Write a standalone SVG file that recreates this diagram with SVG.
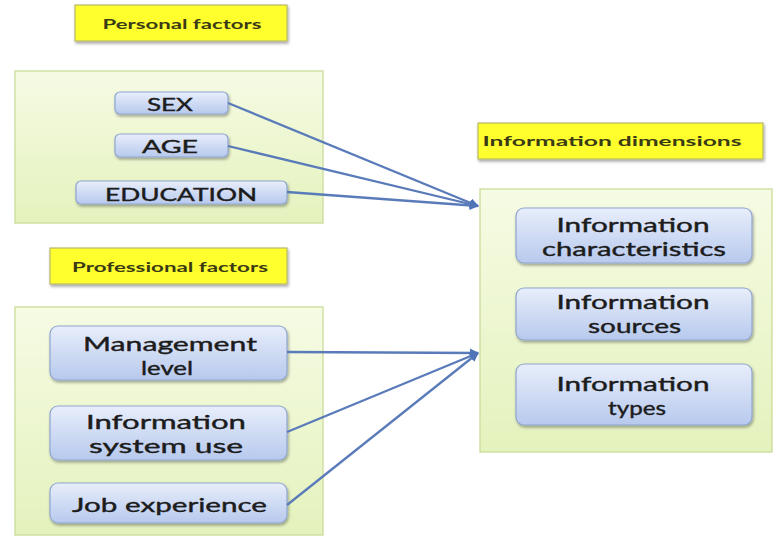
<svg xmlns="http://www.w3.org/2000/svg" width="776" height="546" viewBox="0 0 776 546">
<defs>
<linearGradient id="gNode" x1="0" y1="0" x2="0" y2="1">
<stop offset="0" stop-color="#e8eefb"/>
<stop offset="1" stop-color="#b7c9ed"/>
</linearGradient>
<linearGradient id="gBox" x1="0" y1="0" x2="0" y2="1">
<stop offset="0" stop-color="#f6fbe4"/>
<stop offset="1" stop-color="#e4f2bd"/>
</linearGradient>
<filter id="sh" x="-10%" y="-20%" width="130%" height="150%">
<feGaussianBlur in="SourceAlpha" stdDeviation="1.5"/>
<feOffset dx="1" dy="2" result="b"/>
<feComponentTransfer><feFuncA type="linear" slope="0.35"/></feComponentTransfer>
<feMerge><feMergeNode/><feMergeNode in="SourceGraphic"/></feMerge>
</filter>
<marker id="arr" viewBox="0 0 10 10" refX="9" refY="5" markerWidth="4" markerHeight="4" orient="auto" markerUnits="strokeWidth">
<path d="M0,0 L10,5 L0,10 z" fill="#4f74b8"/>
</marker>
</defs>
<style>
.ylab{fill:#ffff2e;stroke:#b9b86a;stroke-width:1.2}
.ylt{font-family:Lato,"Liberation Sans",sans-serif;font-weight:bold;font-size:13.5px;fill:#3a3a14;text-anchor:middle}
.box{fill:url(#gBox);stroke:#cddf9f;stroke-width:1.4}
.node{fill:url(#gNode);stroke:#8fa6cf;stroke-width:1.2}
.nt{font-family:Lato,"Liberation Sans",sans-serif;font-size:20px;fill:#1c1c1c;stroke:#1c1c1c;stroke-width:0.4;text-anchor:middle}
.ns{font-size:18px}
.con{stroke:#5a7bb9;stroke-width:2.3;fill:none}
</style>
<rect width="776" height="546" fill="#ffffff"/>

<g id="personal-label">
<rect class="ylab" x="75" y="5" width="212" height="36" filter="url(#sh)"/>
<text class="ylt" x="182" y="29" textLength="159" lengthAdjust="spacingAndGlyphs">Personal factors</text>
</g>
<g id="personal-box">
<rect class="box" x="15" y="71" width="308" height="152"/>
</g>
<g id="sex">
<rect class="node" x="115" y="92" width="113" height="22" rx="5" filter="url(#sh)"/>
<text class="nt ns" x="170" y="111" textLength="46" lengthAdjust="spacingAndGlyphs">SEX</text>
</g>
<g id="age">
<rect class="node" x="115" y="134" width="113" height="23" rx="5" filter="url(#sh)"/>
<text class="nt ns" x="170" y="153" textLength="56" lengthAdjust="spacingAndGlyphs">AGE</text>
</g>
<g id="education">
<rect class="node" x="76" y="181" width="211" height="23" rx="5" filter="url(#sh)"/>
<text class="nt ns" x="181" y="201" textLength="152" lengthAdjust="spacingAndGlyphs">EDUCATION</text>
</g>

<g id="professional-label">
<rect class="ylab" x="50" y="248" width="237" height="36" filter="url(#sh)"/>
<text class="ylt" x="170" y="272" textLength="196" lengthAdjust="spacingAndGlyphs">Professional factors</text>
</g>
<g id="professional-box">
<rect class="box" x="15" y="307" width="308" height="228"/>
</g>
<g id="management">
<rect class="node" x="50" y="326" width="237" height="54" rx="8" filter="url(#sh)"/>
<text class="nt" x="170" y="351" textLength="174" lengthAdjust="spacingAndGlyphs">Management</text>
<text class="nt" x="167" y="375" textLength="52" lengthAdjust="spacingAndGlyphs">level</text>
</g>
<g id="infosys">
<rect class="node" x="50" y="406" width="237" height="54" rx="8" filter="url(#sh)"/>
<text class="nt" x="166" y="429" textLength="160" lengthAdjust="spacingAndGlyphs">Information</text>
<text class="nt" x="166" y="453" textLength="154" lengthAdjust="spacingAndGlyphs">system use</text>
</g>
<g id="jobexp">
<rect class="node" x="50" y="483" width="237" height="40" rx="8" filter="url(#sh)"/>
<text class="nt" x="169.5" y="512" textLength="195" lengthAdjust="spacingAndGlyphs">Job experience</text>
</g>

<g id="dimensions-label">
<rect class="ylab" x="478" y="123" width="285" height="36" filter="url(#sh)"/>
<text class="ylt" x="612" y="146" textLength="259" lengthAdjust="spacingAndGlyphs">Information dimensions</text>
</g>
<g id="dimensions-box">
<rect class="box" x="480" y="189" width="292" height="263"/>
</g>
<g id="characteristics">
<rect class="node" x="516" y="208" width="236" height="55" rx="8" filter="url(#sh)"/>
<text class="nt" x="633" y="232" textLength="153" lengthAdjust="spacingAndGlyphs">Information</text>
<text class="nt" x="634" y="256" textLength="184" lengthAdjust="spacingAndGlyphs">characteristics</text>
</g>
<g id="sources">
<rect class="node" x="516" y="288" width="236" height="52" rx="8" filter="url(#sh)"/>
<text class="nt" x="633" y="309" textLength="153" lengthAdjust="spacingAndGlyphs">Information</text>
<text class="nt" x="634.5" y="333" textLength="93" lengthAdjust="spacingAndGlyphs">sources</text>
</g>
<g id="types">
<rect class="node" x="516" y="364" width="236" height="61" rx="8" filter="url(#sh)"/>
<text class="nt" x="633" y="391" textLength="153" lengthAdjust="spacingAndGlyphs">Information</text>
<text class="nt" x="637" y="415" textLength="58" lengthAdjust="spacingAndGlyphs">types</text>
</g>

<g id="connectors">
<line class="con" x1="228" y1="103" x2="478" y2="206" marker-end="url(#arr)"/>
<line class="con" x1="228" y1="146" x2="478" y2="206" marker-end="url(#arr)"/>
<line class="con" x1="287" y1="192" x2="478" y2="206" marker-end="url(#arr)"/>
<line class="con" x1="287" y1="352" x2="478" y2="353" marker-end="url(#arr)"/>
<line class="con" x1="287" y1="432" x2="478" y2="353" marker-end="url(#arr)"/>
<line class="con" x1="287" y1="505" x2="478" y2="353" marker-end="url(#arr)"/>
</g>
</svg>
